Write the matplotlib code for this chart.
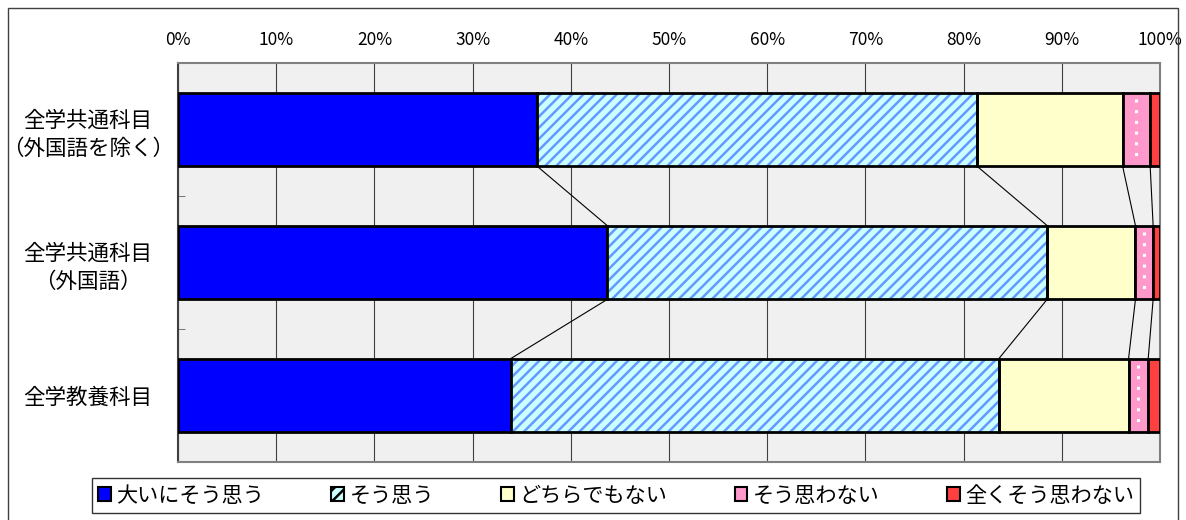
import matplotlib
matplotlib.use('Agg')
import matplotlib.pyplot as plt
import numpy as np
from matplotlib.patches import Patch, Rectangle

plt.rcParams['font.family'] = ['Noto Sans CJK JP', 'DejaVu Sans']
plt.rcParams['hatch.linewidth'] = 1.8

# data (percent)
categories = ['全学共通科目\n（外国語を除く）', '全学共通科目\n（外国語）', '全学教養科目']
series = ['大いにそう思う', 'そう思う', 'どちらでもない', 'そう思わない', '全くそう思わない']
values = {
    '大いにそう思う': [36.6, 43.7, 33.9],
    'そう思う': [44.8, 44.8, 49.7],
    'どちらでもない': [14.8, 9.0, 13.2],
    'そう思わない': [2.8, 1.8, 2.0],
    '全くそう思わない': [1.0, 0.7, 1.2],
}
tick_labels = ['0%', '10%', '20%', '30%', '40%', '50%', '60%', '70%', '80%', '90%', '100%']

colors = ['#0000ff', '#ccffff', '#ffffcc', '#ff99cc', '#ff4040']
hatches = [None, '///', None, None, None]
hatch_col = '#6699ff'

fig = plt.figure(figsize=(11.86, 5.2), dpi=100)
ax = fig.add_axes([178 / 1186, 1 - 462 / 520, (1160 - 178) / 1186, (462 - 63) / 520])
ax.set_facecolor('#f0f0f0')

y = np.arange(len(categories))
h = 0.556
data = np.array([values[s] for s in series])
total = data.sum(axis=0)
data = data / total * 100
left = np.zeros(len(categories))
bounds = []
for i, s in enumerate(series):
    if hatches[i]:
        ax.barh(y, data[i], h, left=left, color=colors[i], hatch=hatches[i],
                edgecolor=hatch_col, linewidth=0, zorder=3)
        ax.barh(y, data[i], h, left=left, fill=False, edgecolor='black',
                linewidth=2, zorder=4)
    else:
        ax.barh(y, data[i], h, left=left, color=colors[i], edgecolor='black',
                linewidth=2, zorder=3)
    if s == 'そう思わない':
        # white dotted line inside the pink segment (Excel pattern fill)
        ax.vlines(left + data[i] / 2, y - h / 2 + 0.05, y + h / 2 - 0.05,
                  color='white', lw=2.2, linestyles=(0, (1, 2.5)), zorder=4)
    left = left + data[i]
    bounds.append(left.copy())

# series lines between bars
for b in bounds[:-1]:
    for j in range(len(categories) - 1):
        ax.plot([b[j], b[j + 1]], [y[j] + h / 2, y[j + 1] - h / 2],
                color='black', lw=0.8, zorder=2)

ax.set_xlim(0, 100)
ax.set_ylim(len(categories) - 0.5, -0.5)
ax.set_xticks(np.arange(0, 101, 10))
ax.set_xticklabels(tick_labels, fontsize=12.5)
ax.xaxis.tick_top()
ax.tick_params(axis='x', length=0, pad=10)
ax.grid(axis='x', color='#404040', lw=0.8, zorder=1)

ax.set_yticks(y)
ax.set_yticklabels(categories, fontsize=15.5, ha='center', linespacing=1.35)
ax.tick_params(axis='y', which='major', length=0, pad=65)
ax.set_yticks([0.5, 1.5], minor=True)
ax.tick_params(axis='y', which='minor', direction='in', length=5, color='#606060')

for sp in ax.spines.values():
    sp.set_color('#808080')
    sp.set_linewidth(1.5)
ax.spines['left'].set_color('#404040')

handles = []
for i, s in enumerate(series):
    if hatches[i]:
        handles.append(Patch(facecolor=colors[i], edgecolor='black', hatch='///', lw=1.5))
    else:
        handles.append(Patch(facecolor=colors[i], edgecolor='black', lw=1.5))
leg = fig.legend(handles, series, loc='center', bbox_to_anchor=(616 / 1186, 1 - 495.5 / 520),
                 ncol=5, fontsize=15.2, frameon=True, fancybox=False, edgecolor='black',
                 handlelength=0.6, handleheight=0.6, handletextpad=0.25, columnspacing=3.2,
                 borderpad=0.3, borderaxespad=0)
leg.get_frame().set_linewidth(1)

fig.patches.append(Rectangle((8 / 1186, -0.05), (1178 - 8) / 1186, 1.05 - 8 / 520,
                             transform=fig.transFigure, fill=False,
                             edgecolor='#404040', lw=1))

fig.savefig('out.png', dpi=100)
